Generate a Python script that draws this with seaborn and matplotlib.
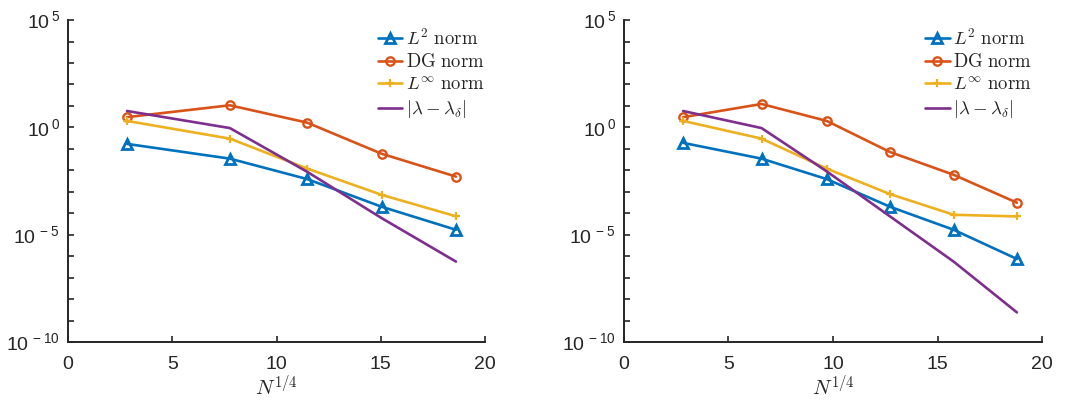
import matplotlib
import matplotlib.pyplot as plt
import seaborn as sns

matplotlib.use("Agg")

# values (y values are errors, log scale)
x_left = [2.83, 7.76, 11.47, 15.04, 18.6]
l2_left = [1.7e-1, 3.5e-2, 3.9e-3, 2.0e-4, 1.7e-5]
dg_left = [3.0, 10.7, 1.66, 5.9e-2, 5.1e-3]
linf_left = [2.0, 3.0e-1, 1.2e-2, 7.2e-4, 7.2e-5]
lam_left = [5.8, 0.93, 8.5e-3, 5.9e-5, 5.6e-7]

x_right = [2.83, 6.58, 9.70, 12.73, 15.77, 18.8]
l2_right = [1.9e-1, 3.5e-2, 3.9e-3, 2.0e-4, 1.7e-5, 7.4e-7]
dg_right = [3.0, 12.3, 2.0, 7.1e-2, 6.2e-3, 3.1e-4]
linf_right = [2.0, 3.0e-1, 1.2e-2, 7.8e-4, 8.5e-5, 7.1e-5]
lam_right = [5.8, 0.93, 8.9e-3, 7.1e-5, 5.6e-7, 2.4e-9]

series_labels = [r"$L^2\ \mathrm{norm}$", r"$\mathrm{DG\ norm}$",
                 r"$L^{\infty}\ \mathrm{norm}$", r"$|\lambda-\lambda_{\delta}|$"]
x_ticks = [0, 5, 10, 15, 20]
x_ticklabels = ["0", "5", "10", "15", "20"]
y_exponents = list(range(-10, 6))
y_labelled = [-10, -5, 0, 5]

sns.set_theme(style="white")
plt.rcParams["font.family"] = ["Liberation Sans", "DejaVu Sans"]
plt.rcParams["mathtext.fontset"] = "cm"
plt.rcParams["mathtext.rm"] = "Liberation Sans"

colors = ["#0072BD", "#D95319", "#EDB120", "#7E2F8E"]
styles = [
    dict(marker="^", markersize=7, markerfacecolor="none", markeredgewidth=2.0),
    dict(marker="o", markersize=6, markerfacecolor="none", markeredgewidth=1.7),
    dict(marker="+", markersize=6, markeredgewidth=1.6),
    dict(),
]
axis_color = "#262626"

fig = plt.figure(figsize=(10.67, 4.01), dpi=100)
ax_l = fig.add_axes([0.0637, 0.147, 0.391, 0.803])
ax_r = fig.add_axes([0.5848, 0.147, 0.3918, 0.803])

panels = [
    (ax_l, x_left, [l2_left, dg_left, linf_left, lam_left], 0.72),
    (ax_r, x_right, [l2_right, dg_right, linf_right, lam_right], 0.698),
]

for ax, xs, ys_list, leg_x in panels:
    for ys, lab, col, st in zip(ys_list, series_labels, colors, styles):
        sns.lineplot(x=xs, y=ys, color=col, linewidth=1.9, label=lab, ax=ax,
                     markeredgecolor=col, dashes=False, **st)
    ax.set_yscale("log")
    ax.set_xlim(0, 20)
    ax.set_ylim(1e-10, 1e5)
    ax.set_xticks(x_ticks, x_ticklabels)
    ax.set_yticks([10.0 ** e for e in y_exponents],
                  [(r"$10^{\,%d}$" % e) if e in y_labelled else "" for e in y_exponents])
    ax.minorticks_off()
    for lbl in ax.get_yticklabels():
        lbl.set_math_fontfamily("custom")
    ax.tick_params(direction="in", length=4, width=1.2, colors=axis_color,
                   labelsize=14, pad=6, left=True, bottom=True)
    ax.tick_params(axis="x", pad=10)
    for side in ["top", "right"]:
        ax.spines[side].set_visible(False)
    for side in ["left", "bottom"]:
        ax.spines[side].set_color(axis_color)
        ax.spines[side].set_linewidth(1.4)
    ax.set_xlabel(r"$N^{1/4}$", fontsize=15, labelpad=1)
    ax.legend(loc="upper left", bbox_to_anchor=(leg_x, 1.005), frameon=False,
              fontsize=13.5, borderpad=0, handlelength=1.3, handletextpad=0.2,
              labelspacing=0.25)

fig.savefig("out.png", dpi=100)
plt.close(fig)
